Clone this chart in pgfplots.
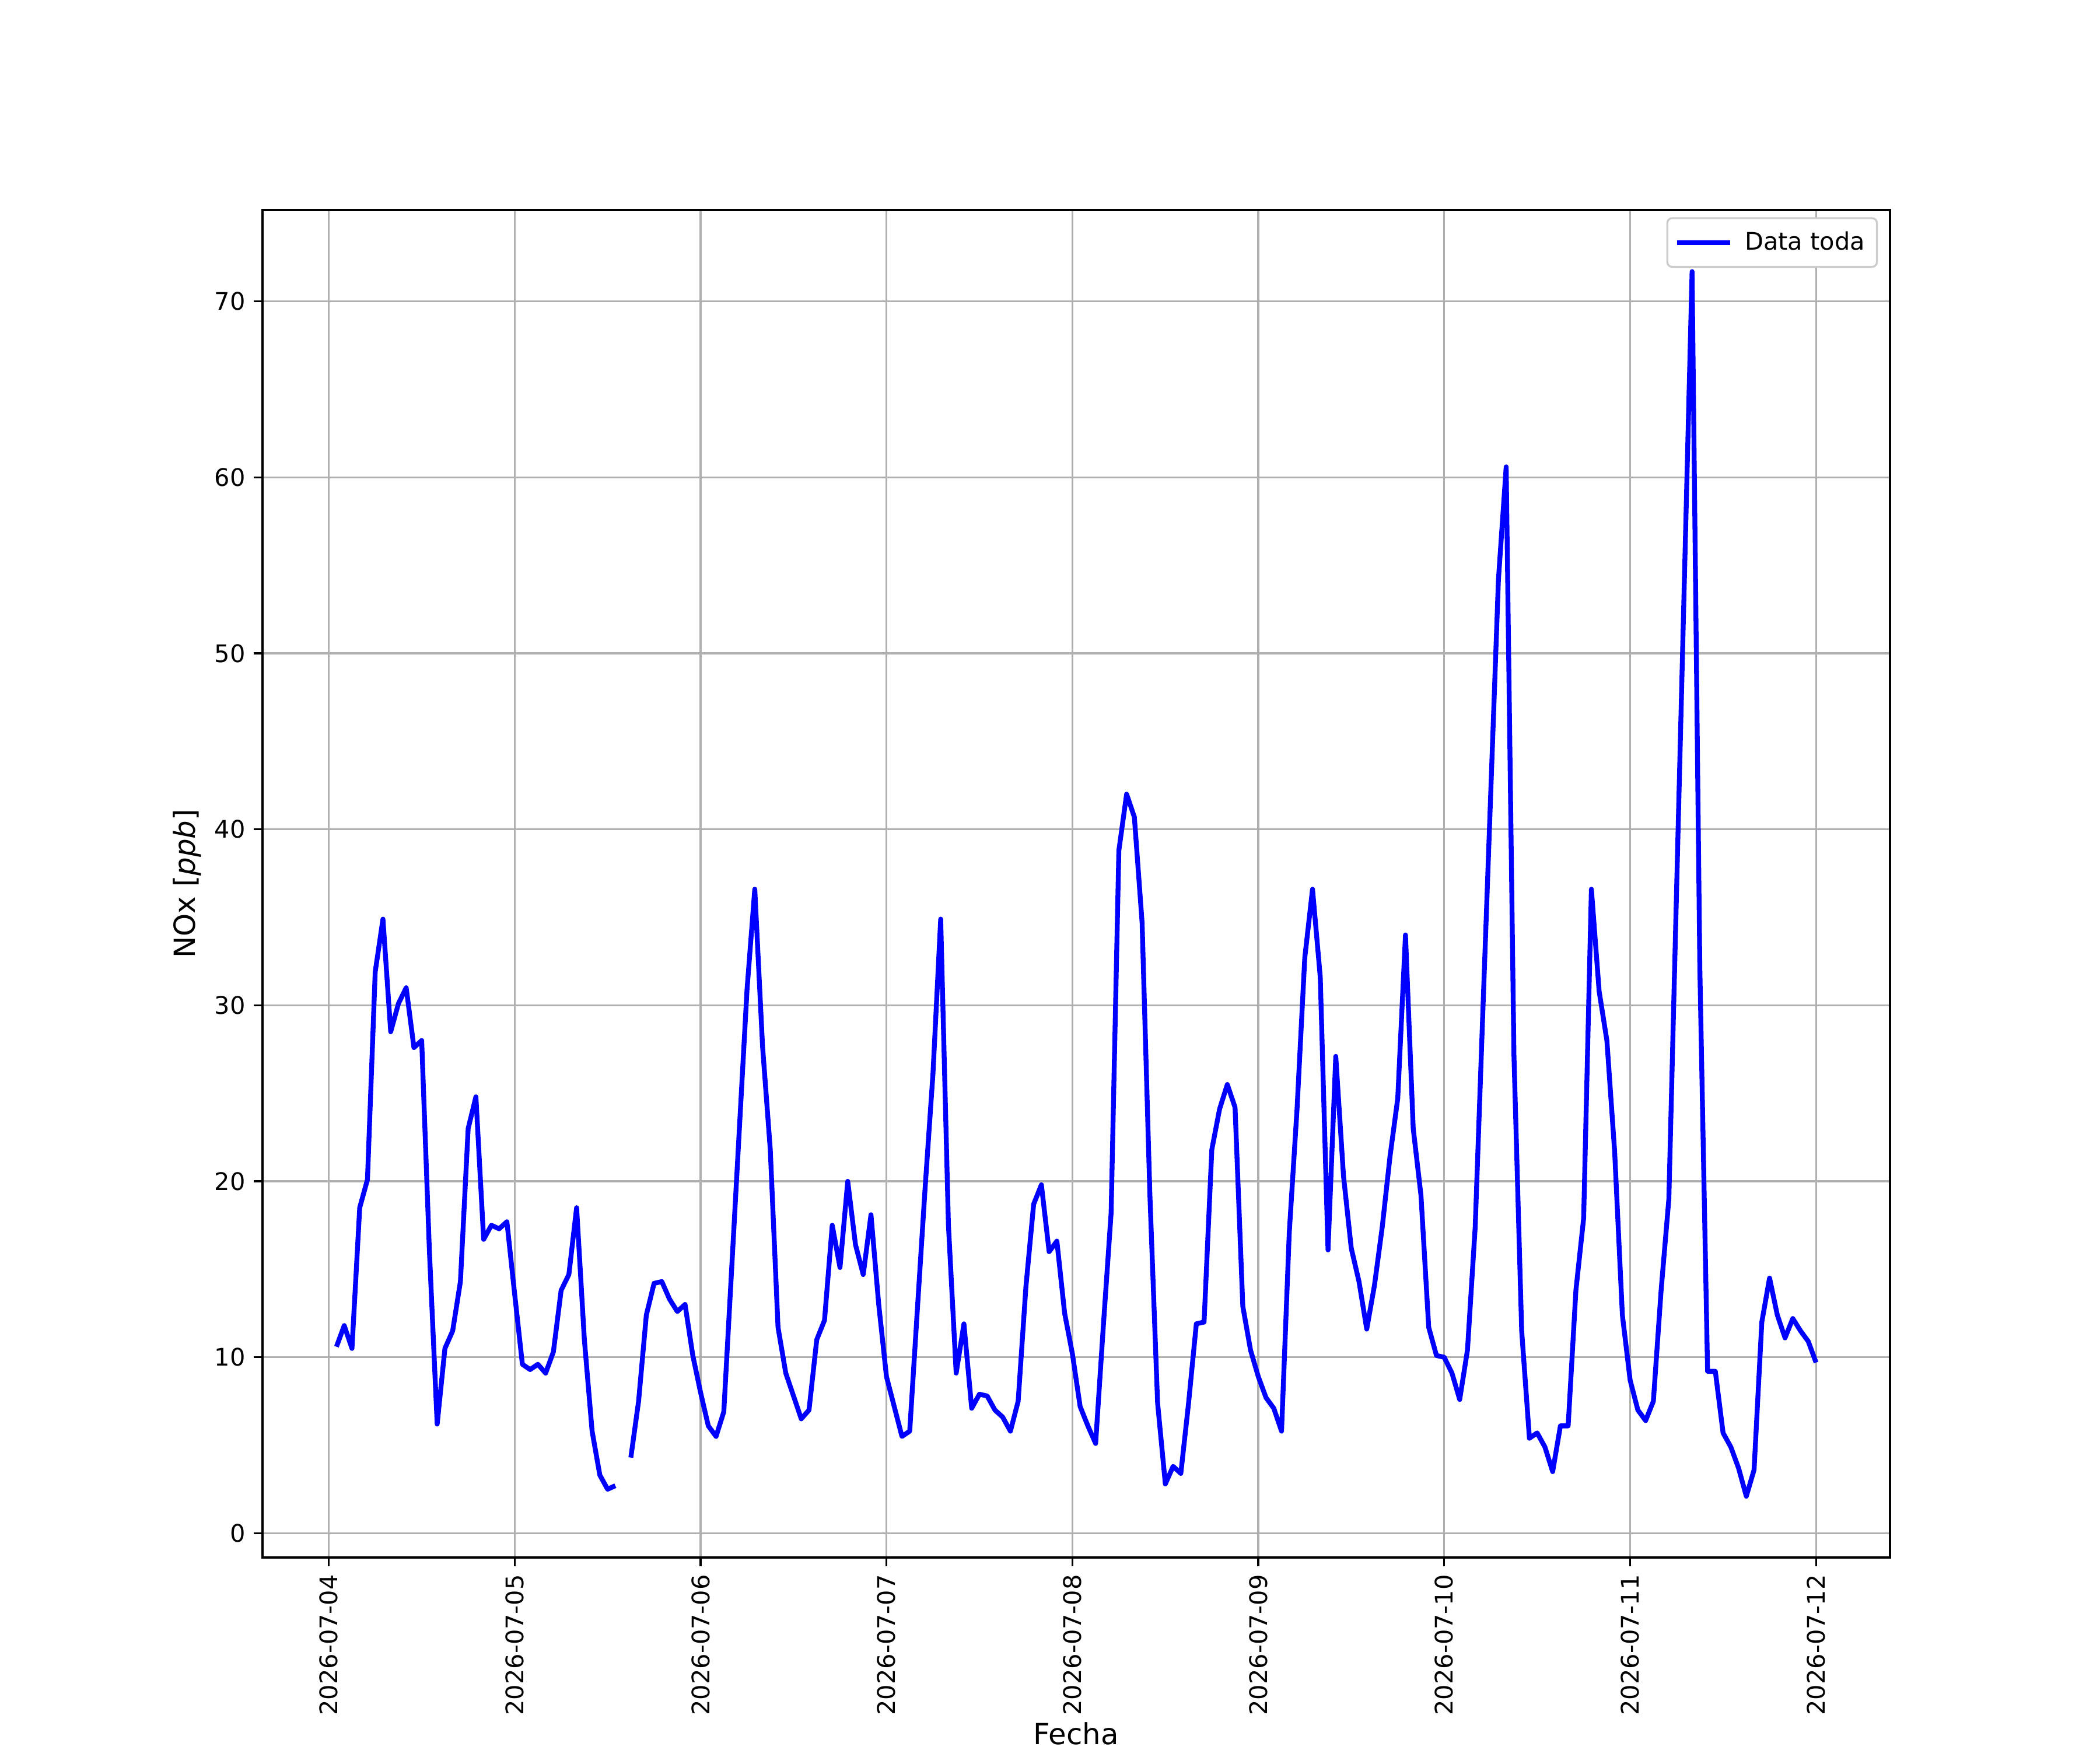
\documentclass[border=0pt]{standalone}
\usepackage{fontspec}
\setmainfont{DejaVu Sans}
\usepackage{pgfplots}
\pgfplotsset{compat=1.18}
\definecolor{gridgray}{RGB}{176,176,176}
\definecolor{legendgray}{RGB}{204,204,204}
\begin{document}
\begin{tikzpicture}
\begin{axis}[
  at={(0,0)}, anchor=south west,
  scale only axis, width=9.3in, height=7.7in,
  xmin=-8.55, xmax=201.55, ymin=-1.38, ymax=75.2,
  xtick={0,24,...,192},
  xticklabels={2026-07-04,2026-07-05,2026-07-06,2026-07-07,2026-07-08,2026-07-09,2026-07-10,2026-07-11,2026-07-12},
  ytick={0,10,...,70},
  /pgf/number format/assume math mode=true,
  ticklabel style={font=\fontsize{10}{12}\selectfont},
  xticklabel style={rotate=90, anchor=east},
  tick align=outside, tick pos=left,
  major tick length=3.5pt,
  every tick/.style={black, line width=0.8pt},
  axis line style={black, line width=0.8pt},
  grid=major,
  grid style={gridgray, line width=0.8pt},
  xlabel={Fecha},
  ylabel={NOx [\textit{ppb}]},
  label style={font=\fontsize{12}{14}\selectfont},
  xlabel style={at={(axis description cs:0.5,0)}, anchor=north, inner sep=0pt, yshift=-68pt},
  ylabel style={at={(axis description cs:-0.0463,0.5)}, anchor=center, inner sep=0pt},
  unbounded coords=jump,
  legend style={at={(axis description cs:1,1)}, anchor=north east, xshift=-5pt, yshift=-3pt,
    draw=legendgray, rounded corners=2pt, fill=white, line width=0.8pt,
    font=\fontsize{10}{12}\selectfont, inner xsep=3pt, inner ysep=3.5pt, cells={anchor=west}},
  legend image code/.code={\draw[#1] (0pt,0pt) -- (22pt,0pt); \path (25pt,0pt);},
]
\addplot[color={rgb,255:red,0;green,0;blue,255}, line width=2pt, line join=round] coordinates {
(1,10.6)(2,11.8)(3,10.5)(4,18.5)(5,20.1)(6,31.9)(7,34.9)(8,28.5)(9,30.1)(10,31.0)(11,27.6)(12,28.0)
(13,16.0)(14,6.2)(15,10.5)(16,11.5)(17,14.3)(18,23.0)(19,24.8)(20,16.7)(21,17.5)(22,17.3)(23,17.7)
(24,13.6)(25,9.6)(26,9.3)(27,9.6)(28,9.1)(29,10.3)(30,13.8)(31,14.7)(32,18.5)(33,11.0)(34,5.8)(35,3.3)
(36,2.5)(37,2.7)(38,nan)(39,4.3)(40,7.5)(41,12.4)(42,14.2)(43,14.3)(44,13.3)(45,12.6)(46,13.0)(47,10.1)
(48,8.0)(49,6.1)(50,5.5)(51,6.9)(52,14.9)(53,22.9)(54,30.9)(55,36.6)(56,27.7)(57,21.8)(58,11.7)(59,9.1)
(60,7.8)(61,6.5)(62,7.0)(63,11.0)(64,12.1)(65,17.5)(66,15.1)(67,20.0)(68,16.4)(69,14.7)(70,18.1)(71,13.0)
(72,8.9)(73,7.2)(74,5.5)(75,5.8)(76,12.8)(77,19.7)(78,26.1)(79,34.9)(80,17.5)(81,9.1)(82,11.9)(83,7.1)
(84,7.9)(85,7.8)(86,7.0)(87,6.6)(88,5.8)(89,7.5)(90,14.0)(91,18.7)(92,19.8)(93,16.0)(94,16.6)(95,12.5)
(96,10.2)(97,7.2)(98,6.1)(99,5.1)(100,11.8)(101,18.2)(102,38.8)(103,42.0)(104,40.7)(105,34.7)(106,19.3)(107,7.4)
(108,2.8)(109,3.8)(110,3.4)(111,7.4)(112,11.9)(113,12.0)(114,21.8)(115,24.1)(116,25.5)(117,24.2)(118,12.9)(119,10.4)
(120,8.9)(121,7.7)(122,7.1)(123,5.8)(124,17.1)(125,24.1)(126,32.7)(127,36.6)(128,31.6)(129,16.1)(130,27.1)(131,20.3)
(132,16.2)(133,14.3)(134,11.6)(135,14.1)(136,17.4)(137,21.4)(138,24.7)(139,34.0)(140,23.0)(141,19.2)(142,11.7)(143,10.1)
(144,10.0)(145,9.1)(146,7.6)(147,10.4)(148,17.4)(149,29.8)(150,42.0)(151,54.2)(152,60.6)(153,27.2)(154,11.5)(155,5.4)
(156,5.7)(157,4.9)(158,3.5)(159,6.1)(160,6.1)(161,13.8)(162,17.9)(163,36.6)(164,30.8)(165,28.0)(166,21.7)(167,12.4)
(168,8.7)(169,7.0)(170,6.4)(171,7.5)(172,13.8)(173,19.0)(174,36.6)(175,54.1)(176,71.7)(177,32.1)(178,9.2)(179,9.2)
(180,5.7)(181,4.9)(182,3.7)(183,2.1)(184,3.6)(185,12.0)(186,14.5)(187,12.4)(188,11.1)(189,12.2)(190,11.5)(191,10.9)
(192,9.7)
};
\addlegendentry{Data toda}
\end{axis}
\pgfresetboundingbox
\path[use as bounding box] (-1.5in,-1.1in) rectangle (10.5in,8.9in);
\end{tikzpicture}
\end{document}
